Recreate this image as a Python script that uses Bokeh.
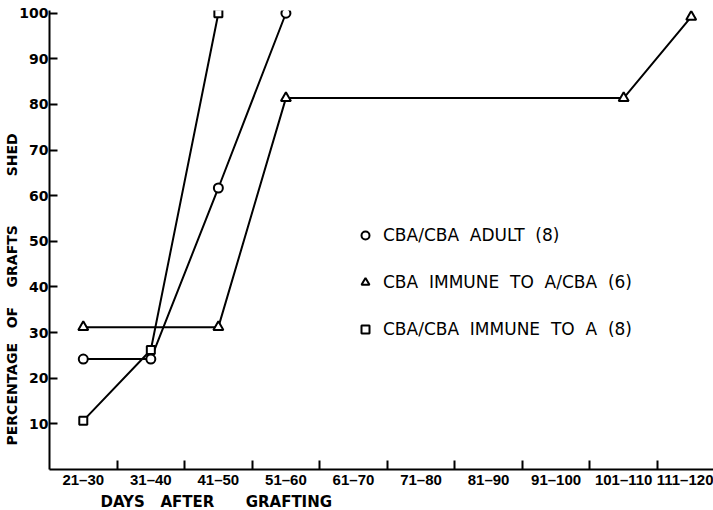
from bokeh.plotting import figure
from bokeh.models import FixedTicker, Legend, LegendItem, Range1d, Title
from bokeh.embed import file_html
from bokeh.resources import INLINE

# ---- data ----
categories = ["21–30", "31–40", "41–50", "51–60", "61–70",
              "71–80", "81–90", "91–100", "101–110", "111–120"]
y_ticks = [10, 20, 30, 40, 50, 60, 70, 80, 90, 100]

adult_days = ["21–30", "31–40", "41–50", "51–60"]
adult_pct = [24.2, 24.2, 61.7, 100]

immune_a_cba_days = ["21–30", "41–50", "51–60", "101–110", "111–120"]
immune_a_cba_pct = [31.2, 31.2, 81.4, 81.4, 99.2]

immune_a_days = ["21–30", "31–40", "41–50"]
immune_a_pct = [10.7, 26.2, 100]

legend_labels = ["CBA/CBA  ADULT  (8)",
                 "CBA  IMMUNE  TO  A/CBA  (6)",
                 "CBA/CBA  IMMUNE  TO  A  (8)"]

NB = "\u00a0"
y_title = ("PERCENTAGE " + NB * 2 + "OF " + NB * 3 + "GRAFTS " + NB * 9 + "SHED")
x_title = ("DAYS " + NB * 2 + "AFTER " + NB * 5 + "GRAFTING")


def idx(days):
    return [categories.index(d) for d in days]


p = figure(width=713, height=510, output_backend="svg", toolbar_location=None,
           x_range=Range1d(-0.5, 9.33), y_range=Range1d(0, 100.6),
           min_border_left=49, min_border_right=0, min_border_top=10,
           min_border_bottom=41)
p.outline_line_color = None
p.xgrid.visible = False
p.ygrid.visible = False

# x axis
xa = p.xaxis[0]
xa.ticker = FixedTicker(ticks=list(range(len(categories))),
                        minor_ticks=[i + 0.5 for i in range(len(categories) - 1)])
xa.major_label_overrides = {i: c for i, c in enumerate(categories)}
xa.major_tick_in = 0
xa.major_tick_out = 0
xa.minor_tick_in = 9
xa.minor_tick_out = 0
xa.minor_tick_line_width = 2
xa.minor_tick_line_color = "black"
xa.axis_line_width = 2
xa.axis_line_color = "black"
xa.major_label_standoff = 1
xa.major_label_text_font = "Liberation Sans"
xa.major_label_text_font_style = "bold"
xa.major_label_text_font_size = "15px"
xa.major_label_text_color = "black"

# y axis
ya = p.yaxis[0]
ya.ticker = FixedTicker(ticks=y_ticks)
ya.major_tick_in = 8
ya.major_tick_out = 0
ya.minor_tick_in = 0
ya.minor_tick_out = 0
ya.major_tick_line_width = 2
ya.major_tick_line_color = "black"
ya.axis_line_width = 2
ya.axis_line_color = "black"
ya.major_label_standoff = 1
ya.major_label_text_font = "DejaVu Sans"
ya.major_label_text_font_style = "bold"
ya.major_label_text_font_size = "14px"
ya.major_label_text_color = "black"

# series
series = [
    (idx(adult_days), adult_pct, "circle", 9),
    (idx(immune_a_cba_days), immune_a_cba_pct, "triangle", 10),
    (idx(immune_a_days), immune_a_pct, "square", 8),
]
for xs, ys, _, _ in series:
    p.line(xs, ys, line_color="black", line_width=2)

marker_renderers = []
for xs, ys, marker, size in series:
    r = p.scatter(xs, ys, marker=marker, size=size, line_color="black",
                  line_width=2, fill_color="white")
    marker_renderers.append(r)

legend = Legend(items=[LegendItem(label=lab, renderers=[r])
                       for lab, r in zip(legend_labels, marker_renderers)],
                location=(306, 130), border_line_color=None,
                background_fill_alpha=0, padding=0, margin=0, spacing=27,
                glyph_width=20, glyph_height=20, label_height=20,
                label_standoff=8, label_text_font="DejaVu Sans",
                label_text_font_size="17px", label_text_color="black")
p.add_layout(legend)

p.add_layout(Title(text=y_title, align="left", offset=24, standoff=-6,
                   text_font="DejaVu Sans", text_font_style="bold",
                   text_font_size="14px", text_color="black"), "left")
p.add_layout(Title(text=x_title, align="left", offset=51, standoff=0,
                   text_font="DejaVu Sans", text_font_style="bold",
                   text_font_size="15px", text_color="black"), "below")

open("out.html", "w").write(file_html(p, INLINE))
